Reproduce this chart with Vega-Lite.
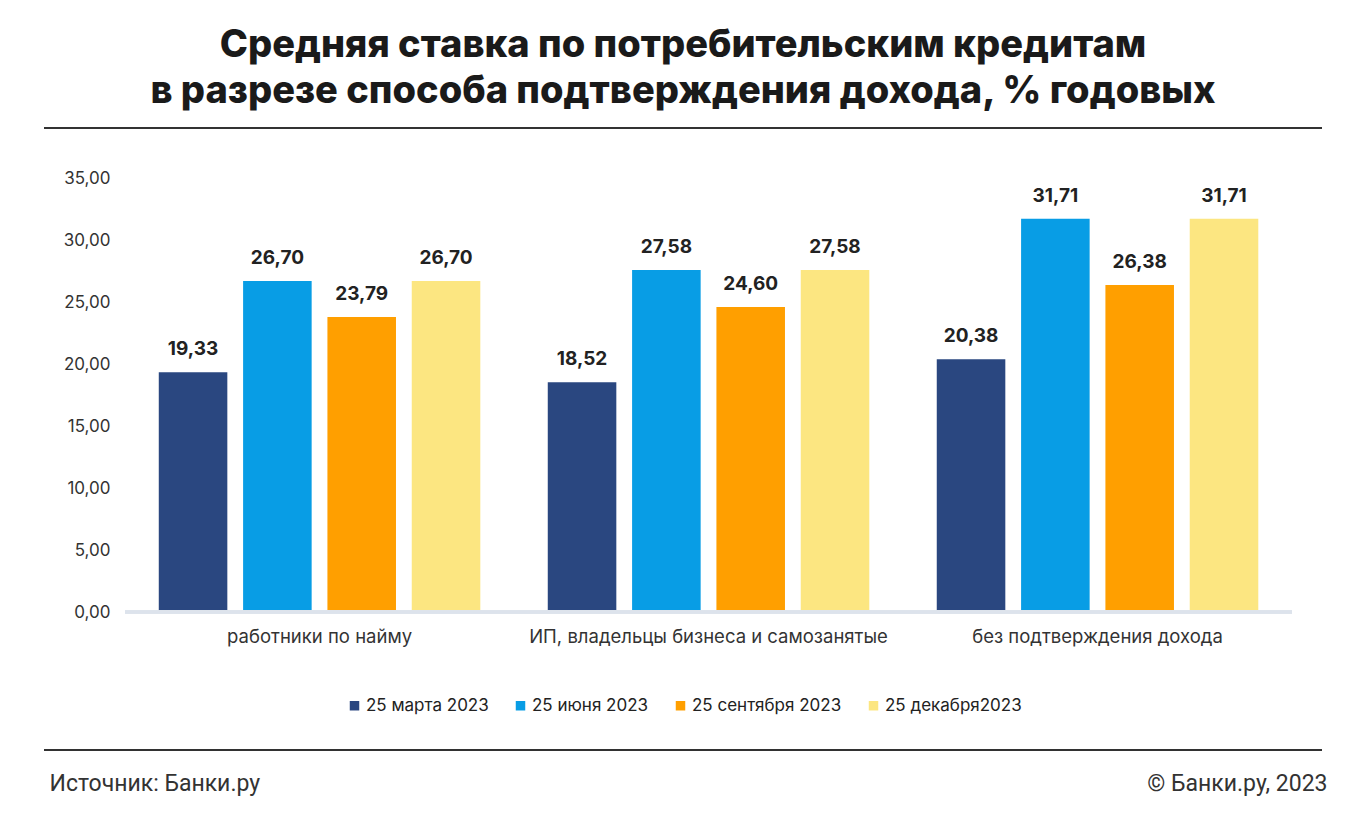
{
  "$schema": "https://vega.github.io/schema/vega-lite/v6.json",
  "width": 1278,
  "height": 434,
  "autosize": {"type": "none"},
  "padding": {"left": 44, "top": 178, "right": 44, "bottom": 203},
  "background": "#ffffff",
  "config": {
    "view": {"stroke": null},
    "font": "Inter",
    "locale": {"number": {"decimal": ",", "thousands": " ", "grouping": [3], "currency": ["", " ₽"]}}
  },
  "title": {
    "text": ["Средняя ставка по потребительским кредитам", "в разрезе способа подтверждения дохода, % годовых"],
    "font": "Inter",
    "fontSize": 38,
    "fontWeight": 800,
    "color": "#1a1a1a",
    "anchor": "middle",
    "frame": "group",
    "lineHeight": 46,
    "offset": 16
  },
  "data": {
    "values": [
      {"group": "работники по найму", "period": "25 марта 2023", "value": 19.33},
      {"group": "работники по найму", "period": "25 июня 2023", "value": 26.70},
      {"group": "работники по найму", "period": "25 сентября 2023", "value": 23.79},
      {"group": "работники по найму", "period": "25 декабря2023", "value": 26.70},
      {"group": "ИП, владельцы бизнеса и самозанятые", "period": "25 марта 2023", "value": 18.52},
      {"group": "ИП, владельцы бизнеса и самозанятые", "period": "25 июня 2023", "value": 27.58},
      {"group": "ИП, владельцы бизнеса и самозанятые", "period": "25 сентября 2023", "value": 24.60},
      {"group": "ИП, владельцы бизнеса и самозанятые", "period": "25 декабря2023", "value": 27.58},
      {"group": "без подтверждения дохода", "period": "25 марта 2023", "value": 20.38},
      {"group": "без подтверждения дохода", "period": "25 июня 2023", "value": 31.71},
      {"group": "без подтверждения дохода", "period": "25 сентября 2023", "value": 26.38},
      {"group": "без подтверждения дохода", "period": "25 декабря2023", "value": 31.71}
    ]
  },
  "layer": [
    {
      "mark": {"type": "bar"},
      "encoding": {
        "x": {
          "field": "group",
          "type": "nominal",
          "sort": null,
          "scale": {"paddingInner": 0, "paddingOuter": 0.1427, "align": 0.73},
          "axis": {
            "title": "Источник: Банки.ру",
            "titleFont": "Roboto",
            "titleFontSize": 23,
            "titleFontWeight": "normal",
            "titleColor": "#333333",
            "titleAnchor": "start",
            "titleAlign": "left",
            "titleBaseline": "alphabetic",
            "titleX": 5,
            "titleY": 178,
            "labelAngle": 0,
            "labelFont": "Inter",
            "labelFontSize": 18.5,
            "labelColor": "#333333",
            "labelPadding": 15,
            "labelLimit": 0,
            "ticks": false,
            "domain": false
          }
        },
        "y": {
          "field": "value",
          "type": "quantitative",
          "scale": {"domain": [0, 35], "nice": false},
          "axis": {
            "values": [0, 5, 10, 15, 20, 25, 30, 35],
            "format": ".2f",
            "offset": -81,
            "labelPadding": 15,
            "labelFont": "Inter",
            "labelFontSize": 17,
            "labelColor": "#333333",
            "ticks": false,
            "domain": false,
            "grid": false,
            "title": "© Банки.ру, 2023",
            "titleAngle": 0,
            "titleFont": "Roboto",
            "titleFontSize": 23,
            "titleFontWeight": "normal",
            "titleColor": "#333333",
            "titleAlign": "right",
            "titleBaseline": "alphabetic",
            "titleX": 1202,
            "titleY": 612
          }
        },
        "xOffset": {
          "field": "period",
          "type": "nominal",
          "sort": null,
          "scale": {"paddingInner": 0.187, "paddingOuter": 0.4}
        },
        "color": {
          "field": "period",
          "type": "nominal",
          "sort": null,
          "scale": {
            "domain": ["25 марта 2023", "25 июня 2023", "25 сентября 2023", "25 декабря2023"],
            "range": ["#2A4780", "#089DE5", "#FF9F00", "#FCE681"]
          },
          "legend": {
            "title": null,
            "orient": "none",
            "direction": "horizontal",
            "columns": 4,
            "legendX": 302,
            "legendY": 519,
            "symbolType": "square",
            "symbolSize": 90,
            "symbolStrokeWidth": 0,
            "labelFont": "Inter",
            "labelFontSize": 17,
            "labelColor": "#222222",
            "labelOffset": 3,
            "columnPadding": 23
          }
        }
      }
    },
    {
      "mark": {"type": "text", "baseline": "alphabetic", "dy": -17, "font": "Inter", "fontSize": 19, "fontWeight": 700, "color": "#222222"},
      "encoding": {
        "x": {"field": "group", "type": "nominal", "sort": null},
        "y": {"field": "value", "type": "quantitative"},
        "xOffset": {"field": "period", "type": "nominal", "sort": null},
        "text": {"field": "value", "type": "quantitative", "format": ".2f"}
      }
    },
    {
      "mark": {"type": "rule", "color": "#DDE3EC", "strokeWidth": 3},
      "encoding": {
        "x": {"datum": "работники по найму", "bandPosition": 0},
        "x2": {"datum": "без подтверждения дохода", "bandPosition": 1},
        "y": {"datum": 0}
      }
    },
    {
      "mark": {"type": "rule", "color": "#333333", "strokeWidth": 1.5},
      "encoding": {"y": {"datum": 39.03}}
    },
    {
      "mark": {"type": "rule", "color": "#333333", "strokeWidth": 1.5},
      "encoding": {"y": {"datum": -11.13}}
    }
  ]
}
